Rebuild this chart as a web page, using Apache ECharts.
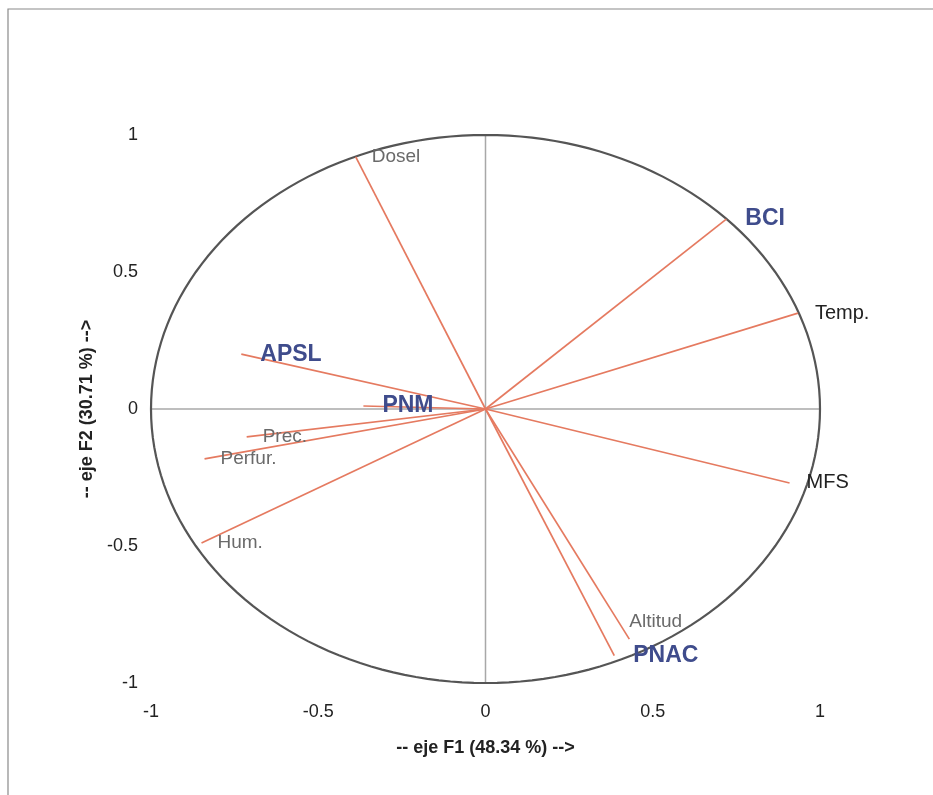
<!DOCTYPE html>
<html>
<head>
<meta charset="utf-8">
<script src="https://cdn.jsdelivr.net/npm/echarts@6/dist/echarts.min.js"></script>
<style>
html,body{margin:0;padding:0;background:#fff;}
#chart{width:933px;height:795px;}
</style>
</head>
<body>
<div id="chart"></div>
<script>
// ---- Data ----
const variables = ['Dosel', 'BCI', 'Temp.', 'MFS', 'Altitud', 'PNAC', 'Hum.', 'Perfur.', 'Prec.', 'APSL', 'PNM'];
const f1 = [-0.388, 0.72, 0.934, 0.909, 0.43, 0.385, -0.849, -0.84, -0.714, -0.73, -0.365];
const f2 = [0.92, 0.693, 0.35, -0.27, -0.84, -0.90, -0.489, -0.182, -0.102, 0.20, 0.011];
const kind = ['var', 'site', 'varDark', 'varDark', 'var', 'site', 'var', 'var', 'var', 'site', 'site'];
const xTicks = [-1, -0.5, 0, 0.5, 1];
const yTicks = [-1, -0.5, 0, 0.5, 1];
const xName = '-- eje F1 (48.34 %) -->';
const yName = '-- eje F2 (30.71 %) -->';

// ---- Styles ----
const FONT = '"Liberation Sans", Arial, Helvetica, sans-serif';
const labelStyle = {
  var: { fill: '#6a6a6a', font: '19px ' + FONT, dx: 16 },
  varDark: { fill: '#222', font: '20px ' + FONT, dx: 17 },
  site: { fill: '#3f4c8c', font: 'bold 23px ' + FONT, dx: 19 }
};
const labelOffset = { 'Altitud': [0, -17] };

const chart = echarts.init(document.getElementById('chart'));

const vecData = variables.map((n, i) => [f1[i], f2[i], i]);

const option = {
  animation: false,
  backgroundColor: '#fff',
  grid: { left: 151, right: 113, top: 135, bottom: 112 },
  xAxis: {
    type: 'value', min: -1, max: 1, interval: 0.5,
    axisLine: { show: false }, axisTick: { show: false }, splitLine: { show: false },
    axisLabel: {
      margin: 20, color: '#222', fontSize: 18, fontFamily: FONT,
      formatter: v => xTicks.includes(v) ? String(v) : ''
    },
    name: xName, nameLocation: 'middle', nameGap: 56,
    nameTextStyle: { color: '#222', fontSize: 18, fontWeight: 'bold', fontFamily: FONT }
  },
  yAxis: {
    type: 'value', min: -1, max: 1, interval: 0.5,
    axisLine: { show: false }, axisTick: { show: false }, splitLine: { show: false },
    axisLabel: {
      margin: 13, color: '#222', fontSize: 18, fontFamily: FONT,
      formatter: v => yTicks.includes(v) ? String(v) : ''
    },
    name: yName, nameLocation: 'middle', nameGap: 54, nameRotate: 90,
    nameTextStyle: { color: '#222', fontSize: 18, fontWeight: 'bold', fontFamily: FONT }
  },
  graphic: [
    { type: 'polyline', shape: { points: [[8, 795], [8, 9], [933, 9]] }, style: { stroke: '#8a8a8a', lineWidth: 1.2, fill: null } }
  ],
  series: [
    {
      type: 'custom',
      coordinateSystem: 'cartesian2d',
      data: [[0, 0]],
      silent: true,
      z: 1,
      renderItem: function (params, api) {
        const pts = [];
        for (let k = 0; k <= 360; k += 2) {
          const t = k * Math.PI / 180;
          pts.push(api.coord([Math.cos(t), Math.sin(t)]));
        }
        const l = api.coord([-1, 0]), r = api.coord([1, 0]);
        const tp = api.coord([0, 1]), bt = api.coord([0, -1]);
        return {
          type: 'group',
          children: [
            { type: 'line', shape: { x1: l[0], y1: l[1], x2: r[0], y2: r[1] }, style: { stroke: '#a8a8a8', lineWidth: 1.5 } },
            { type: 'line', shape: { x1: tp[0], y1: tp[1], x2: bt[0], y2: bt[1] }, style: { stroke: '#a8a8a8', lineWidth: 1.5 } },
            { type: 'polygon', shape: { points: pts }, style: { stroke: '#555', lineWidth: 2.2, fill: null } }
          ]
        };
      }
    },
    {
      type: 'custom',
      coordinateSystem: 'cartesian2d',
      data: vecData,
      silent: true,
      z: 2,
      renderItem: function (params, api) {
        const i = api.value(2);
        const name = variables[i];
        const o = api.coord([0, 0]);
        const e = api.coord([api.value(0), api.value(1)]);
        const st = labelStyle[kind[i]];
        const off = labelOffset[name] || [st.dx, 0];
        return {
          type: 'group',
          children: [
            { type: 'line', shape: { x1: o[0], y1: o[1], x2: e[0], y2: e[1] }, style: { stroke: '#e57a60', lineWidth: 1.7 } },
            { type: 'text', x: e[0] + off[0], y: e[1] + off[1], style: { text: name, fill: st.fill, font: st.font, textAlign: 'left', textVerticalAlign: 'middle' } }
          ]
        };
      }
    }
  ]
};
chart.setOption(option);
</script>
</body>
</html>
